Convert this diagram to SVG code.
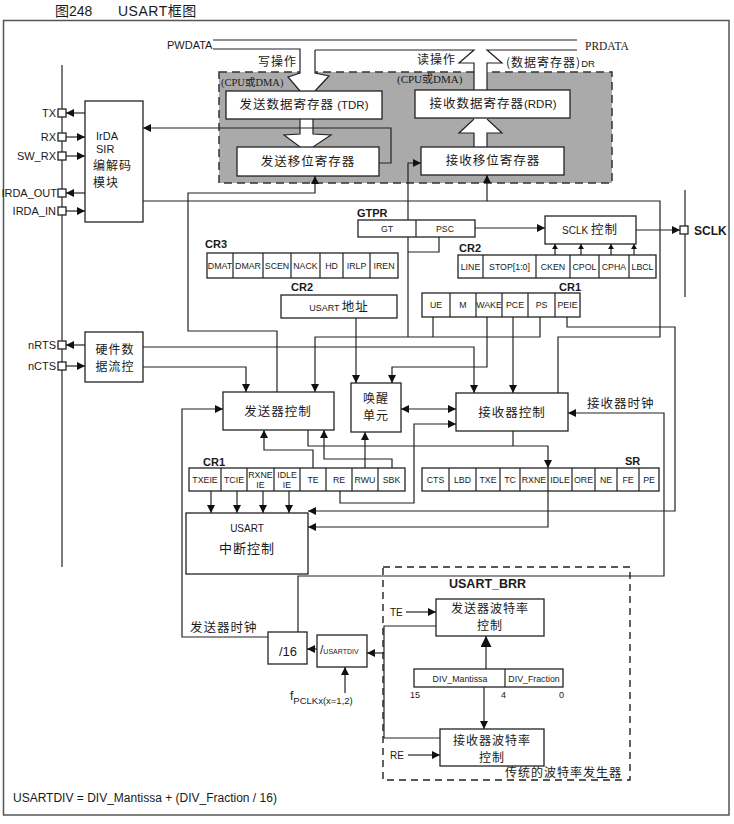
<svg xmlns="http://www.w3.org/2000/svg" width="734" height="824" viewBox="0 0 734 824">
<style>
.ln{fill:none;stroke:#222;stroke-width:1.2}
.bx{fill:#fff;stroke:#222;stroke-width:1.3}
.s{font-family:"Liberation Sans",Arial,sans-serif;fill:#1a1a1a}
.c{font-family:"Noto Sans CJK SC","Noto Sans CJK JP",sans-serif;fill:#1a1a1a;letter-spacing:1px}
.r{font-family:"Liberation Serif","Noto Sans CJK SC",serif;fill:#1a1a1a}
.b{font-weight:bold}
.m{text-anchor:middle}
.e{text-anchor:end}
.cell{font-family:"Liberation Sans",Arial,sans-serif;font-size:8.8px;fill:#1a1a1a;text-anchor:middle}
</style>
<defs>
<marker id="ah" markerUnits="userSpaceOnUse" markerWidth="8" markerHeight="8" viewBox="0 0 8 8" refX="8" refY="4" orient="auto-start-reverse"><path d="M0,0L8,4L0,8z" fill="#111"/></marker>
<marker id="as" markerUnits="userSpaceOnUse" markerWidth="5" markerHeight="6" viewBox="0 0 5 6" refX="5" refY="3" orient="auto"><path d="M0,0L5,3L0,6z" fill="#111"/></marker>
<marker id="ab" markerUnits="userSpaceOnUse" markerWidth="11" markerHeight="11" viewBox="0 0 11 11" refX="11" refY="5.5" orient="auto"><path d="M0,0L11,5.5L0,11z" fill="#111"/></marker>
</defs>
<rect width="734" height="824" fill="#fff"/>
<text class="s" x="55" y="16" font-size="14" fill="#555"><tspan font-family="Noto Sans CJK SC">图</tspan>248</text>
<text class="s" x="118" y="16" font-size="14" fill="#555" letter-spacing="0.5">USART<tspan font-family="Noto Sans CJK SC">框图</tspan></text>
<rect x="3.5" y="20.5" width="725.5" height="794.5" fill="none" stroke="#555" stroke-width="1.5"/>

<g id="databus">
<rect x="219" y="72" width="393" height="111" fill="#aaaaaa" stroke="#333" stroke-width="1.5" stroke-dasharray="8,5"/>
<polygon points="300,60 315,60 315,73 329,76 315,91 300,91 288,77 300,73" fill="#fff"/>
<polygon points="474,60 487,60 487,91 474,91" fill="#fff"/>
<polygon points="300,118 313,118 313,134 331,135 313,148 300,148 284,135 300,134" fill="#fff"/>
<polygon points="474,148 487,148 487,133 502,133 487,118 474,118 459,133 474,133" fill="#fff"/>
<path class="ln" d="M213,40H577M213,49H300V73L288,77L300,91M315,50V73L329,76L315,91M315,50H474L459,63H474V91M577,50H487L502,63H487V91"/>
<path class="ln" d="M300,119V134L284,135L300,147M313,119V134L331,135L313,147"/>
<path class="ln" d="M474,147V133H459L474,119M487,147V133H502L487,119"/>
<text class="s" x="167" y="49" font-size="11">PWDATA</text>
<text class="r" x="585" y="50" font-size="11.5">PRDATA</text>
<text class="c e" x="297" y="66" font-size="12">写操作</text>
<text class="c" x="417" y="64" font-size="12">读操作</text>
<text class="c" x="506" y="67" font-size="12">(数据寄存器)<tspan class="s" font-size="9.5" letter-spacing="0">DR</tspan></text>
<text class="r" x="221" y="86" font-size="10.5">(CPU或DMA)</text>
<text class="r" x="397" y="83" font-size="11">(CPU或DMA)</text>
</g>
<g id="tdr"><rect class="bx" x="226" y="91" width="156" height="28"/><text class="c m" x="304" y="109" font-size="12.5">发送数据寄存器<tspan class="s" letter-spacing="0" font-size="11.5"> (TDR)</tspan></text></g>
<g id="tsr"><rect class="bx" x="237" y="147" width="142" height="29"/><text class="c m" x="308" y="166" font-size="12.5">发送移位寄存器</text></g>
<g id="rdr"><rect class="bx" x="415" y="90" width="155" height="28"/><text class="c m" x="493" y="108" font-size="12.5">接收数据寄存器<tspan class="s" letter-spacing="0" font-size="11.5">(RDR)</tspan></text></g>
<g id="rsr"><rect class="bx" x="421" y="147" width="143" height="28"/><text class="c m" x="493" y="165" font-size="12.5">接收移位寄存器</text></g>

<g id="connectors">
<path class="ln" d="M62,65V567" stroke-width="3"/>
<path class="ln" d="M685,190V297" stroke-width="2"/>
<path class="ln" d="M85,113H66" marker-end="url(#ah)"/>
<path class="ln" d="M66,137H85" marker-end="url(#ah)"/>
<path class="ln" d="M66,156H85" marker-end="url(#ah)"/>
<path class="ln" d="M85,193H66" marker-end="url(#ah)"/>
<path class="ln" d="M66,211H85" marker-end="url(#ah)"/>
<path class="ln" d="M85,345H66" marker-end="url(#ah)"/>
<path class="ln" d="M66,366H85" marker-end="url(#ah)"/>
<path class="ln" d="M379,163H391V128H143" marker-end="url(#ah)"/>
<path class="ln" d="M143,201H487"/>
<path class="ln" d="M558,393V337H660V201H487V175" marker-end="url(#ah)"/>
<path class="ln" d="M277,392V331H188V193H315V176" marker-end="url(#ah)"/>
<path class="ln" d="M408,220V163H421" marker-end="url(#ah)"/>
<path class="ln" d="M408,237V337M439,237V252H408M433,317V337"/>
<path class="ln" d="M540,317V337H315V392" marker-end="url(#ah)"/>
<path class="ln" d="M475,228H545" marker-end="url(#ah)"/>
<path class="ln" d="M636,230H680" marker-end="url(#ah)"/>
<path class="ln" d="M555,255V244" marker-end="url(#as)"/>
<path class="ln" d="M581,255V244" marker-end="url(#as)"/>
<path class="ln" d="M611,255V244" marker-end="url(#as)"/>
<path class="ln" d="M634,255V244" marker-end="url(#as)"/>
<path class="ln" d="M356,318V383" marker-end="url(#ah)"/>
<path class="ln" d="M487,317V367H392V383" marker-end="url(#ah)"/>
<path class="ln" d="M143,347H474V393" stroke-width="2" marker-end="url(#ah)"/>
<path class="ln" d="M513,317V393" marker-end="url(#ah)"/>
<path class="ln" d="M143,367H246V392" marker-end="url(#ah)"/>
<path class="ln" d="M401,409H456" marker-start="url(#ah)" marker-end="url(#ah)"/>
<path class="ln" d="M340,491V503H414V424H456" marker-end="url(#ah)"/>
<path class="ln" d="M365,468V432" marker-end="url(#ah)"/>
<path class="ln" d="M392,468V459H324V430" marker-end="url(#ah)"/>
<path class="ln" d="M313,468V450H264V430" marker-end="url(#ah)"/>
<path class="ln" d="M308,430V446H548V468" marker-end="url(#ah)"/>
<path class="ln" d="M513,431V446"/>
<path class="ln" d="M548,491V527H308" marker-end="url(#ah)"/>
<path class="ln" d="M567,317V327H675V511H308" marker-end="url(#ah)"/>
<path class="ln" d="M211,491V513" marker-end="url(#ah)"/>
<path class="ln" d="M237,491V513" marker-end="url(#ah)"/>
<path class="ln" d="M263,491V513" marker-end="url(#ah)"/>
<path class="ln" d="M289,491V513" marker-end="url(#ah)"/>
<path class="ln" d="M298,632V576H664V413H568" marker-end="url(#ah)"/>
<path class="ln" d="M268,637H182V409H223" marker-end="url(#ah)"/>
<path class="ln" d="M317,649H307" marker-end="url(#ah)"/>
<path class="ln" d="M345,693V667" marker-end="url(#ah)"/>
<path class="ln" d="M436,626H384V738H440"/>
<path class="ln" d="M384,653H367" marker-end="url(#ah)"/>
<path class="ln" d="M406,612H436" marker-end="url(#ah)"/>
<path class="ln" d="M408,755H440" marker-end="url(#ah)"/>
<path class="ln" d="M486,669V636" stroke-width="2.5" marker-end="url(#ab)"/>
<path class="ln" d="M484,687V729" marker-end="url(#ah)"/>
</g>

<g id="pins">
<rect class="bx" x="58" y="109" width="8" height="8"/>
<rect class="bx" x="58" y="133" width="8" height="8"/>
<rect class="bx" x="58" y="152" width="8" height="8"/>
<rect class="bx" x="58" y="189" width="8" height="8"/>
<rect class="bx" x="58" y="207" width="8" height="8"/>
<rect class="bx" x="58" y="341" width="8" height="8"/>
<rect class="bx" x="58" y="362" width="8" height="8"/>
<rect class="bx" x="680" y="226" width="8" height="8"/>
<text class="s e" x="56" y="117" font-size="11">TX</text>
<text class="s e" x="56" y="141" font-size="11">RX</text>
<text class="s e" x="56" y="160" font-size="11">SW_RX</text>
<text class="s e" x="57" y="197" font-size="11">IRDA_OUT</text>
<text class="s e" x="56" y="215" font-size="11">IRDA_IN</text>
<text class="s e" x="56" y="349" font-size="11">nRTS</text>
<text class="s e" x="56" y="370" font-size="11">nCTS</text>
<text class="s b" x="694" y="235" font-size="12">SCLK</text>
</g>

<g id="irda"><rect class="bx" x="85" y="101" width="58" height="121"/>
<text class="s" x="96" y="140" font-size="11">IrDA</text>
<text class="s" x="96" y="153" font-size="11">SIR</text>
<text class="c" x="93" y="170" font-size="12">编解码</text>
<text class="c" x="93" y="187" font-size="12">模块</text></g>

<g id="flowctl"><rect class="bx" x="85" y="332" width="58" height="50"/>
<text class="c m" x="115" y="354" font-size="12">硬件数</text>
<text class="c m" x="115" y="371" font-size="12">据流控</text></g>

<g id="gtpr"><text class="s b" x="357" y="217" font-size="11">GTPR</text>
<rect class="bx" x="358" y="220" width="117" height="17"/><path class="ln" d="M416,220V237"/>
<text class="cell" x="387" y="232" font-size="9.5">GT</text><text class="cell" x="445" y="232" font-size="9.5">PSC</text></g>

<g id="sclkctl"><rect class="bx" x="545" y="216" width="91" height="28"/>
<text class="c m" x="590" y="234" font-size="12.5"><tspan class="s" font-size="10" letter-spacing="0">SCLK </tspan>控制</text></g>

<g id="cr3"><text class="s b" x="205" y="248" font-size="11">CR3</text>
<rect class="bx" x="207" y="253" width="191" height="25"/>
<path class="ln" d="M233,253V278M263,253V278M291,253V278M320,253V278M343,253V278M370,253V278"/>
<text class="cell" x="220" y="269">DMAT</text><text class="cell" x="248" y="269">DMAR</text><text class="cell" x="277" y="269">SCEN</text><text class="cell" x="305.5" y="269">NACK</text><text class="cell" x="331.5" y="269">HD</text><text class="cell" x="356.5" y="269">IRLP</text><text class="cell" x="384" y="269">IREN</text></g>

<g id="cr2top"><text class="s b" x="459" y="252" font-size="11">CR2</text>
<rect class="bx" x="458" y="255" width="198" height="23"/>
<path class="ln" d="M483,255V278M536,255V278M570,255V278M599,255V278M629,255V278"/>
<text class="cell" x="470.5" y="270">LINE</text><text class="cell" x="509.5" y="270">STOP[1:0]</text><text class="cell" x="553" y="270">CKEN</text><text class="cell" x="584.5" y="270">CPOL</text><text class="cell" x="614" y="270">CPHA</text><text class="cell" x="642.5" y="270">LBCL</text></g>

<g id="cr1top"><text class="s b" x="559" y="291" font-size="11">CR1</text>
<rect class="bx" x="422" y="293" width="158" height="24"/>
<path class="ln" d="M450,293V317M476,293V317M502,293V317M528,293V317M555,293V317"/>
<text class="cell" x="436" y="308">UE</text><text class="cell" x="463" y="308">M</text><text class="cell" x="489" y="308" font-size="8.3">WAKE</text><text class="cell" x="515" y="308">PCE</text><text class="cell" x="541.5" y="308">PS</text><text class="cell" x="567.5" y="308">PEIE</text></g>

<g id="addr"><text class="s b" x="291" y="291" font-size="11">CR2</text>
<rect class="bx" x="281" y="295" width="116" height="23"/>
<text class="c m" x="339" y="311" font-size="12.5"><tspan class="s" font-size="9" letter-spacing="0">USART </tspan>地址</text></g>

<g id="txctl"><rect class="bx" x="223" y="392" width="111" height="38"/><text class="c m" x="278" y="416" font-size="12.5">发送器控制</text></g>
<g id="wakeup"><rect class="bx" x="351" y="383" width="50" height="49"/><text class="c m" x="376" y="403" font-size="12">唤醒</text><text class="c m" x="376" y="420" font-size="12">单元</text></g>
<g id="rxctl"><rect class="bx" x="456" y="393" width="112" height="38"/><text class="c m" x="512" y="417" font-size="12.5">接收器控制</text></g>
<text class="c" x="587" y="408" font-size="12.5">接收器时钟</text>
<text class="c" x="190" y="632" font-size="12.5">发送器时钟</text>

<g id="cr1bot"><text class="s b" x="203" y="466" font-size="11">CR1</text>
<rect class="bx" x="189" y="468" width="216" height="23"/>
<path class="ln" d="M221,468V491M247,468V491M274,468V491M300,468V491M326,468V491M352,468V491M378,468V491"/>
<text class="cell" x="205" y="483">TXEIE</text><text class="cell" x="234" y="483">TCIE</text>
<text class="cell" x="260.5" y="478">RXNE</text><text class="cell" x="260.5" y="488">IE</text>
<text class="cell" x="287" y="478">IDLE</text><text class="cell" x="287" y="488">IE</text>
<text class="cell" x="313" y="483">TE</text><text class="cell" x="339" y="483">RE</text><text class="cell" x="365" y="483">RWU</text><text class="cell" x="391.5" y="483">SBK</text></g>

<g id="sr"><text class="s b" x="625" y="465" font-size="11">SR</text>
<rect class="bx" x="422" y="468" width="237" height="23"/>
<path class="ln" d="M449,468V491M476,468V491M500,468V491M520,468V491M548,468V491M572,468V491M595,468V491M617,468V491M639,468V491"/>
<text class="cell" x="435.5" y="483">CTS</text><text class="cell" x="462.5" y="483">LBD</text><text class="cell" x="488" y="483">TXE</text><text class="cell" x="510" y="483">TC</text><text class="cell" x="534" y="483">RXNE</text><text class="cell" x="560" y="483">IDLE</text><text class="cell" x="583.5" y="483">ORE</text><text class="cell" x="606" y="483">NE</text><text class="cell" x="628" y="483">FE</text><text class="cell" x="649" y="483">PE</text></g>

<g id="intctl"><rect class="bx" x="186" y="513" width="122" height="61"/>
<text class="s m" x="247" y="532" font-size="10">USART</text><text class="c m" x="247" y="553" font-size="13">中断控制</text></g>

<g id="div16"><rect class="bx" x="268" y="632" width="39" height="32"/><text class="s m" x="288" y="656" font-size="13">/16</text></g>
<g id="usartdiv"><rect class="bx" x="317" y="635" width="50" height="32"/><text class="s" x="320" y="654" font-size="12">/<tspan font-size="7">USARTDIV</tspan></text></g>
<text class="s" x="290" y="700" font-size="12">f<tspan font-size="9.5" dy="4">PCLKx(x=1,2)</tspan></text>

<g id="brr">
<rect x="383" y="567" width="247" height="213" fill="none" stroke="#222" stroke-width="1.4" stroke-dasharray="7,5"/>
<text class="s b" x="449" y="588" font-size="12.5">USART_BRR</text>
<text class="s" x="390" y="616" font-size="10">TE</text>
<text class="s" x="390" y="759" font-size="10">RE</text>
<text class="c" x="505" y="777" font-size="12" letter-spacing="0.6">传统的波特率发生器</text>
</g>
<g id="txbaud"><rect class="bx" x="436" y="599" width="108" height="37"/><text class="c m" x="490" y="613" font-size="12">发送器波特率</text><text class="c m" x="490" y="630" font-size="12">控制</text></g>
<g id="divreg"><rect class="bx" x="414" y="669" width="149" height="18"/><path class="ln" d="M505,669V687"/>
<text class="cell" x="460" y="682" font-size="9.5">DIV_Mantissa</text><text class="cell" x="534" y="682" font-size="9.5">DIV_Fraction</text>
<text class="s" x="410" y="698" font-size="9">15</text><text class="s" x="501" y="698" font-size="9">4</text><text class="s" x="559" y="698" font-size="9">0</text></g>
<g id="rxbaud"><rect class="bx" x="440" y="729" width="104" height="37"/><text class="c m" x="492" y="745" font-size="12">接收器波特率</text><text class="c m" x="492" y="762" font-size="12">控制</text></g>

<text class="s" x="13" y="802" font-size="12">USARTDIV = DIV_Mantissa + (DIV_Fraction / 16)</text>
</svg>
